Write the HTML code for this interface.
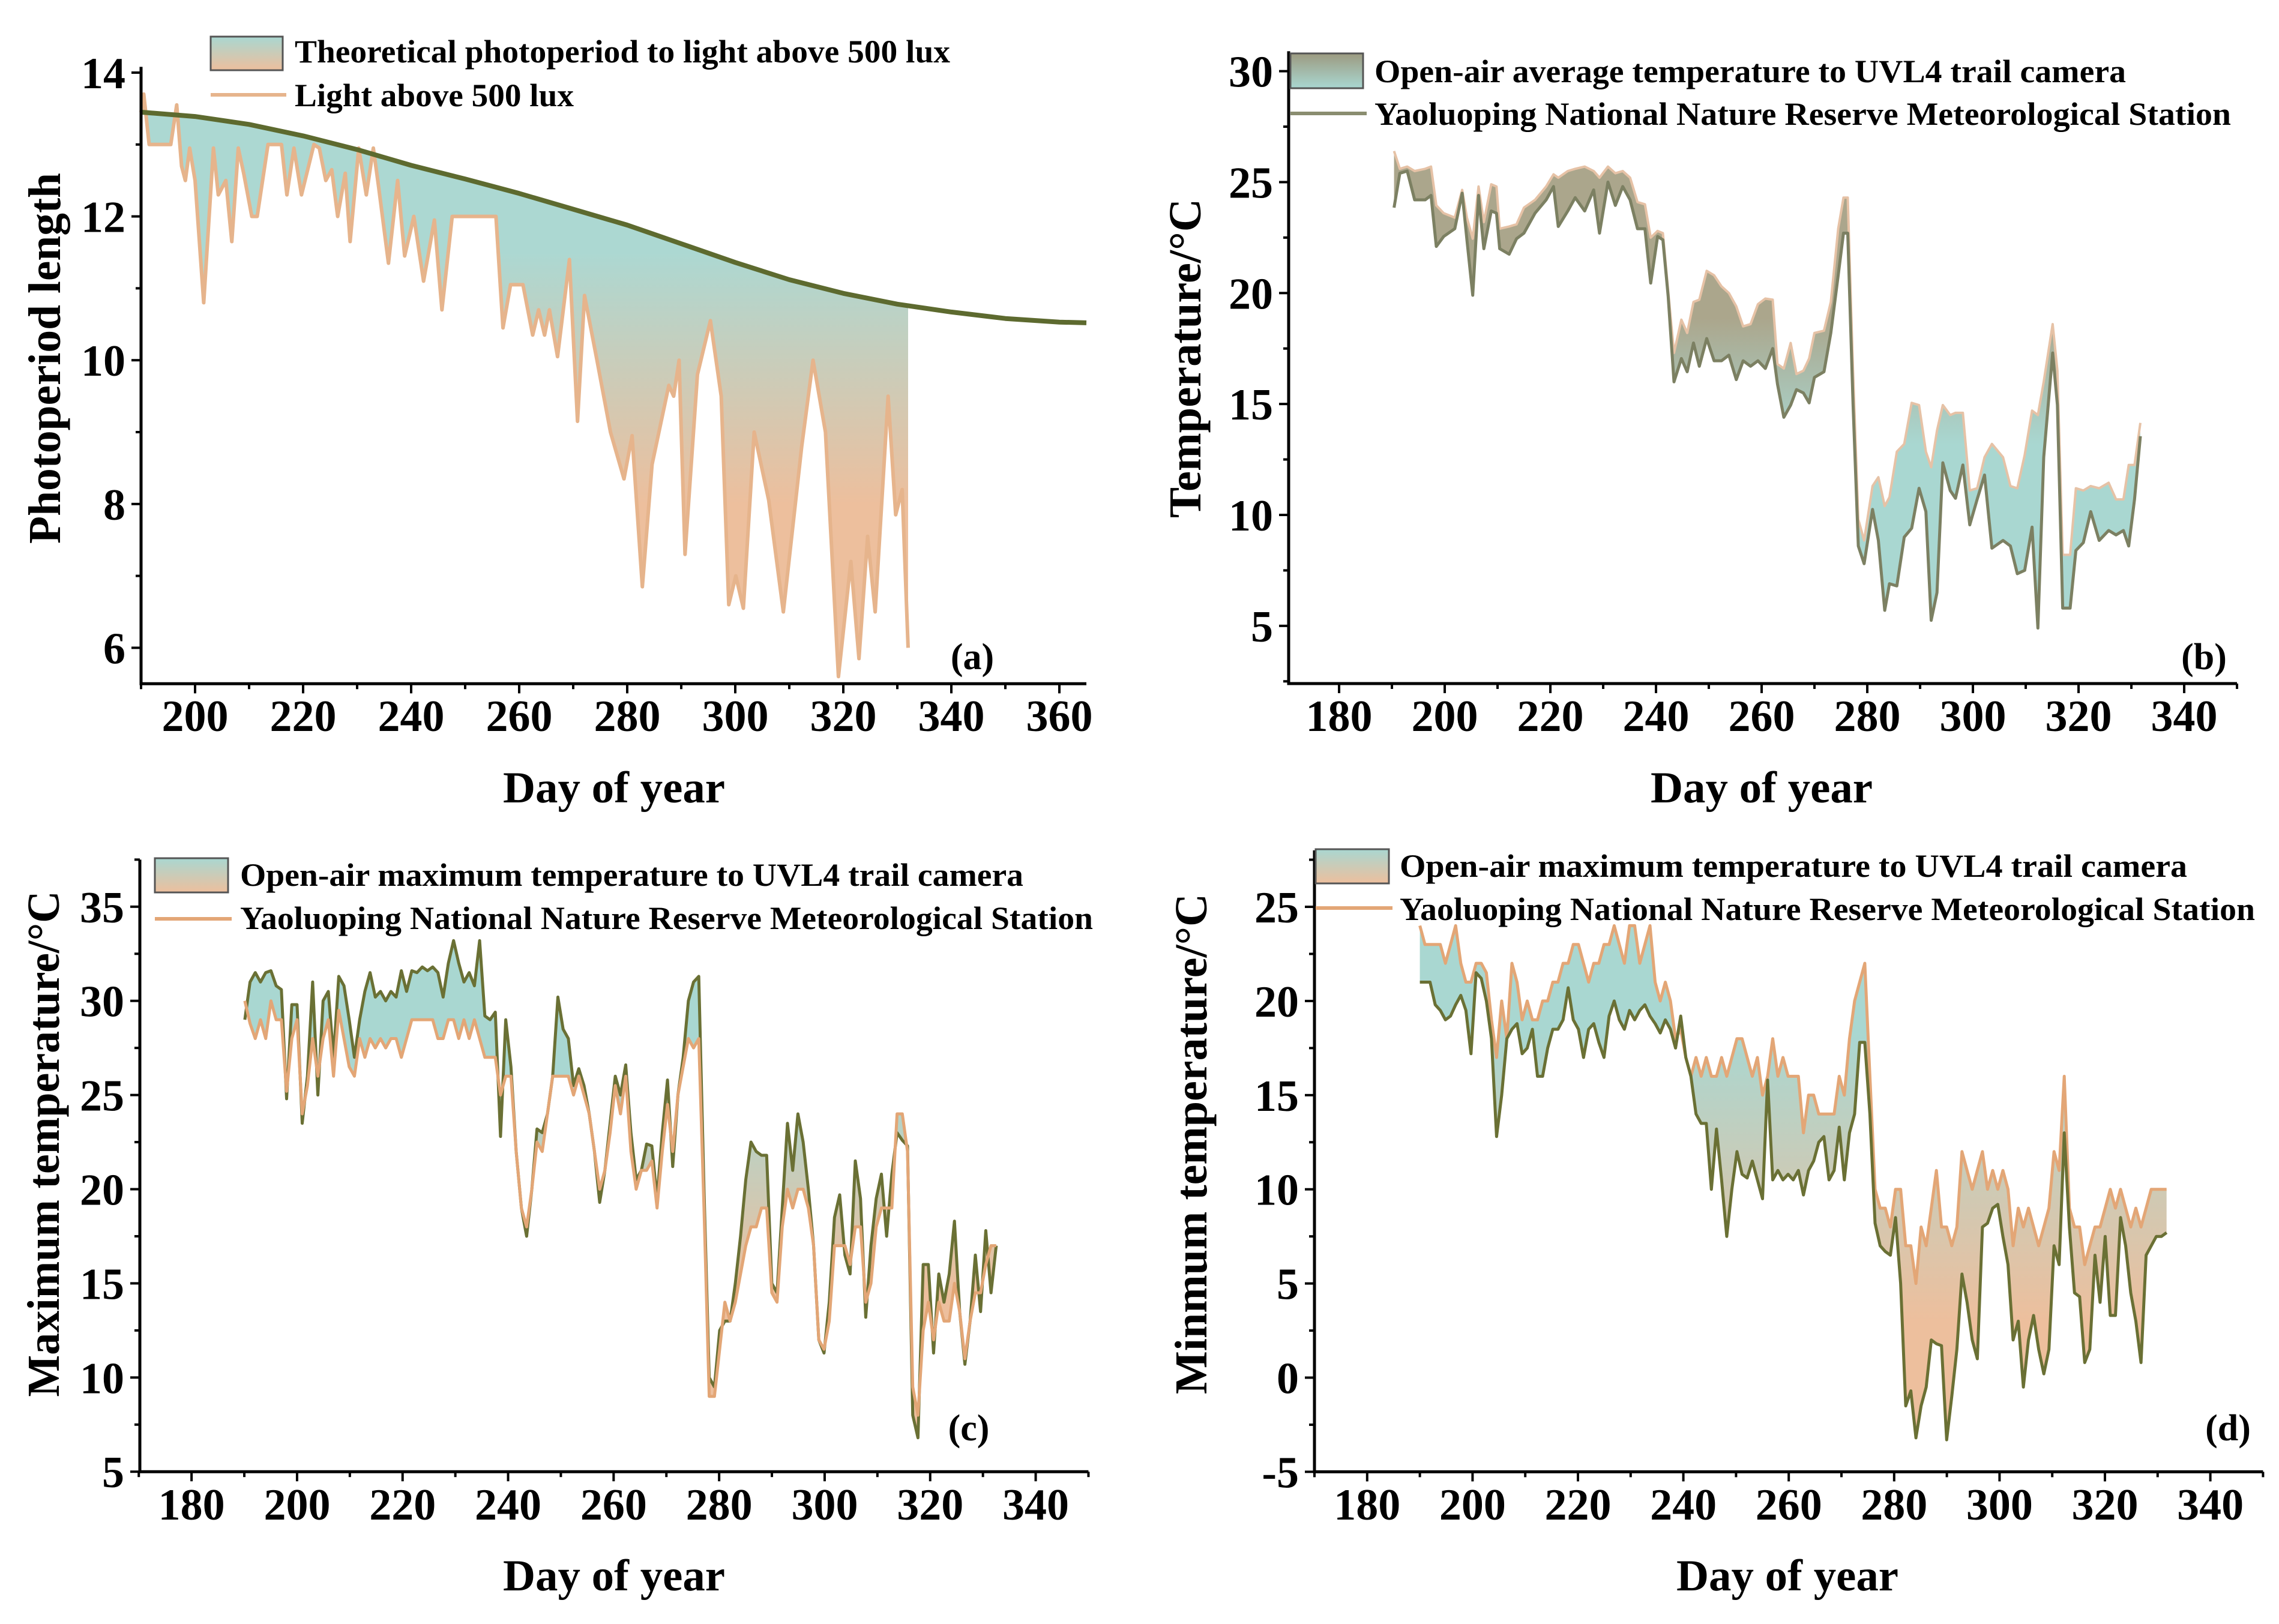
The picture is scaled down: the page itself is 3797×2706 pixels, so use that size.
<!DOCTYPE html>
<html><head><meta charset="utf-8"><style>
html,body{margin:0;padding:0;background:#fff;}
svg{display:block;}
text{font-family:"Liberation Serif",serif;font-weight:bold;fill:#000;}
</style></head><body>
<svg id="chart" xmlns="http://www.w3.org/2000/svg" width="3797" height="2706" viewBox="0 0 3797 2706">
<defs>
<linearGradient id="gA" gradientUnits="userSpaceOnUse" x1="0" y1="420" x2="0" y2="840"><stop offset="0" stop-color="#acd8d2"/><stop offset="1" stop-color="#edbf9d"/></linearGradient>
<linearGradient id="gB" gradientUnits="userSpaceOnUse" x1="0" y1="530" x2="0" y2="740"><stop offset="0" stop-color="#aba68c"/><stop offset="1" stop-color="#a9d7d1"/></linearGradient>
<linearGradient id="gC" gradientUnits="userSpaceOnUse" x1="0" y1="1800" x2="0" y2="2150"><stop offset="0" stop-color="#a9d7d1"/><stop offset="1" stop-color="#edbf9d"/></linearGradient>
<linearGradient id="gD" gradientUnits="userSpaceOnUse" x1="0" y1="1720" x2="0" y2="2200"><stop offset="0" stop-color="#a9d7d1"/><stop offset="1" stop-color="#edbf9d"/></linearGradient>
<linearGradient id="sw1" x1="0" y1="0" x2="0" y2="1"><stop offset="0" stop-color="#a9d7d1"/><stop offset="1" stop-color="#edbf9d"/></linearGradient>
<linearGradient id="sw2" x1="0" y1="0" x2="0" y2="1"><stop offset="0" stop-color="#9c9a80"/><stop offset="1" stop-color="#a9d7d1"/></linearGradient>
</defs>
</svg>
<script>
// ---------- Panel (a) data ----------
const theoDaysA = [190,200,210,220,230,240,250,260,270,280,290,300,310,320,330,340,350,360,365];
const theoValsA = [13.45,13.39,13.28,13.12,12.93,12.71,12.52,12.32,12.1,11.88,11.62,11.36,11.12,10.93,10.78,10.67,10.58,10.53,10.52];
const lightDaysA = [190,190.5,191.5,195.5,196.6,197.5,198.2,199,200,201.6,203.4,204.3,205.7,206.8,208,209,210.5,211.5,213.5,216,217,218.3,219.7,222,223,224.2,225.3,226.4,227.8,228.7,230.3,231.7,233,234,235.8,237.5,238.8,240.5,242.3,244.3,245.7,247.6,255.7,257,258.4,260.7,262.5,263.6,264.7,265.6,267.1,269.3,270.8,272.1,274.4,276.9,279.4,280.9,282.8,284.6,287.7,288.6,289.6,290.7,293,295.4,297.4,298.8,300.1,301.5,303.5,306.2,308.9,312.3,314.4,316.7,319.1,321.4,322.9,324.5,325.9,328.3,329.7,330.9,332];
const lightValsA = [13.45,13.7,13.0,13.0,13.55,12.7,12.5,12.95,12.5,10.8,12.95,12.3,12.5,11.65,12.95,12.6,12.0,12.0,13.0,13.0,12.3,12.95,12.3,13.0,12.95,12.5,12.65,12.0,12.6,11.65,12.95,12.3,12.95,12.4,11.35,12.5,11.45,12.0,11.1,11.95,10.7,12.0,12.0,10.45,11.05,11.05,10.35,10.7,10.35,10.7,10.05,11.4,9.15,10.9,10.0,9.0,8.35,8.95,6.85,8.55,9.65,9.5,10.0,7.3,9.8,10.55,9.5,6.6,7.0,6.55,9.0,8.05,6.5,8.8,10.0,9.0,5.6,7.2,5.85,7.55,6.5,9.5,7.85,8.2,6.0];
const xTicksA = [200,220,240,260,280,300,320,340,360];
const yTicksA = [6,8,10,12,14];

// ---------- Panel (b) data ----------
const daysB = [190.4,191.5,192.9,194.3,196.3,197.4,198.4,199.8,201.9,203.3,204.2,205.3,206.4,207.4,208.8,209.8,210.4,212.2,213.6,215,217.1,219.2,220.6,221.5,223.3,224.7,226.5,228.2,229.3,230.9,232.3,233.7,235.1,236.5,237.9,239,240.3,241.3,242.3,243.4,244.8,245.9,247.1,248.2,249.6,251,252.4,253.8,255.2,256.5,257.9,259.3,260.7,262.1,263,264.2,265.5,266.6,267.9,269,270,271.8,273.1,274.5,275.5,276.3,277.3,278.3,279.4,281,282.1,283.3,284.2,285.6,287,288.4,289.8,291.1,292.1,293.2,294.3,295.7,296.7,298.1,299.4,300.8,302.2,303.6,305.7,307.1,308.4,309.8,311.2,312.3,313.4,315.1,316,317,318.4,319.5,320.9,322.3,323.9,325.7,327.1,328.5,329.5,330.6,331.7];
const stationB = [23.85,25.4,25.5,24.2,24.2,24.4,22.1,22.55,22.9,24.5,22.4,19.9,24.4,22.0,23.7,23.6,22.0,21.75,22.45,22.7,23.6,24.2,24.8,23.0,23.7,24.3,23.7,24.65,22.7,25.0,23.95,24.8,24.2,22.9,22.9,20.45,22.55,22.4,19.85,16.0,17.05,16.45,17.75,16.7,17.95,16.95,16.95,17.2,16.1,16.95,16.7,16.95,16.6,17.5,15.9,14.4,14.95,15.65,15.5,15.05,16.2,16.45,18.2,20.8,22.7,22.7,15.0,8.6,7.8,10.25,8.85,5.7,6.9,6.8,9.0,9.4,11.2,10.15,5.25,6.5,12.35,11.1,10.75,12.25,9.55,10.7,11.8,8.5,8.85,8.6,7.35,7.5,9.45,4.9,12.6,17.3,14.95,5.8,5.8,8.4,8.75,10.15,8.85,9.3,9.1,9.3,8.6,10.7,13.55];
const cameraB = [26.4,25.6,25.7,25.5,25.6,25.7,23.95,23.6,23.4,24.65,23.4,22.45,24.8,23.2,24.9,24.8,22.9,23.0,23.1,23.85,24.2,24.8,25.35,25.2,25.5,25.6,25.7,25.5,25.2,25.7,25.4,25.5,25.2,24.1,24.0,22.5,22.8,22.7,20.1,17.3,18.8,18.2,19.6,19.7,21.0,20.8,20.3,20.0,19.4,18.5,18.6,19.5,19.75,19.7,16.8,16.6,17.75,16.35,16.5,17.05,18.2,18.3,19.6,22.9,24.3,24.3,16.5,9.8,8.85,11.3,11.7,10.4,10.8,12.85,13.2,15.05,14.95,12.85,12.15,13.8,14.95,14.5,14.6,14.6,11.1,11.2,12.6,13.2,12.6,11.3,11.2,12.7,14.7,14.5,16.0,18.6,16.5,8.2,8.2,11.2,11.1,11.3,11.2,11.45,10.7,10.7,12.25,12.25,14.15];
const xTicksB = [180,200,220,240,260,280,300,320,340];
const yTicksB = [5,10,15,20,25,30];

// ---------- Panel (c) data ----------
const firstDayC = 190.1, dayStepC = 0.989;
const stationC = [29.0,31.0,31.5,31.0,31.5,31.6,30.8,30.6,24.8,29.8,29.8,23.5,26.0,31.0,25.0,30.0,30.5,27.0,31.3,30.8,29.0,27.0,29.0,30.5,31.5,30.2,30.5,30.0,30.5,30.2,31.6,30.5,31.6,31.5,31.8,31.6,31.8,31.5,30.2,32.0,33.2,32.0,31.0,31.5,30.8,33.2,29.2,29.0,29.4,22.8,29.0,26.5,22.0,19.0,17.5,20.0,23.2,23.0,24.0,26.0,30.2,28.5,28.0,25.5,26.4,25.5,24.0,22.0,19.3,21.0,23.5,26.0,25.0,26.6,23.0,20.5,21.0,22.4,22.3,19.5,23.0,25.8,21.2,25.0,27.0,30.0,31.0,31.3,20.0,10.0,9.5,12.5,13.0,13.0,15.0,17.5,20.5,22.5,22.0,21.8,21.8,15.0,14.5,19.0,23.5,21.0,24.0,22.5,20.0,17.0,12.0,11.3,14.0,18.5,19.7,16.5,15.5,21.5,19.5,13.2,17.0,19.5,20.8,17.5,20.8,23.0,22.6,22.3,8.0,6.8,16.0,16.0,11.3,15.5,14.0,15.5,18.3,13.5,10.7,13.0,16.5,13.5,17.8,14.5,17.0];
const cameraC = [30.0,28.8,28.0,29.0,28.0,30.0,29.0,29.0,25.2,28.0,29.0,24.0,25.5,28.0,26.0,28.0,29.0,26.0,29.5,28.0,26.5,26.0,28.0,27.0,28.0,27.5,28.0,27.5,28.0,28.0,27.0,28.0,29.0,29.0,29.0,29.0,29.0,28.0,28.0,29.0,29.0,28.0,29.0,28.0,29.0,28.0,27.0,27.0,27.0,25.0,26.0,26.0,22.0,19.0,18.0,20.0,22.5,22.0,24.0,26.0,26.0,26.0,26.0,25.0,26.0,25.0,24.0,22.0,20.0,21.0,23.0,25.5,24.0,26.0,22.0,20.0,21.0,21.0,21.5,19.0,22.0,24.5,22.0,25.0,26.5,28.0,27.5,28.0,19.0,9.0,9.0,11.5,14.0,13.0,14.0,15.5,17.0,18.0,18.0,19.0,19.0,14.5,14.0,18.0,20.0,19.0,20.0,20.0,19.0,17.0,12.0,11.5,13.0,17.0,17.0,17.0,16.0,18.0,18.0,14.0,15.0,18.0,19.0,19.0,19.0,24.0,24.0,22.0,9.5,8.0,12.5,14.0,12.0,14.0,13.0,13.0,15.0,13.5,11.0,13.0,14.5,14.5,16.0,17.0,17.0];
const xTicksC = [180,200,220,240,260,280,300,320,340];
const yTicksC = [5,10,15,20,25,30,35];

// ---------- Panel (d) data ----------
const firstDayD = 190, dayStepD = 0.9705;
const stationD = [21.0,21.0,21.0,19.8,19.5,19.0,19.2,19.8,20.3,19.5,17.2,21.5,21.2,20.0,18.0,12.8,15.0,18.0,18.5,18.8,17.2,17.5,18.5,16.0,16.0,17.5,18.5,18.5,19.0,20.7,19.0,18.5,17.0,18.5,18.8,17.8,17.0,19.2,20.0,19.0,18.5,19.5,19.0,19.5,19.8,19.2,18.8,18.3,19.0,18.5,17.5,19.2,17.0,16.0,14.0,13.5,13.5,10.0,13.2,10.5,7.5,10.0,12.0,10.8,10.6,11.5,10.5,9.5,15.8,10.5,11.0,10.5,10.8,10.5,11.0,9.7,11.0,11.5,12.5,12.8,10.5,11.0,13.3,10.5,13.0,14.0,17.8,17.8,14.0,8.2,7.0,6.7,6.5,8.5,5.0,-1.5,-0.7,-3.2,-1.5,-0.5,2.0,1.8,1.7,-3.3,-1.0,1.5,5.5,4.0,2.0,1.0,8.0,8.2,9.0,9.2,7.5,6.0,2.0,3.0,-0.5,2.0,3.3,1.5,0.2,1.5,7.0,6.0,13.0,8.0,4.5,4.3,0.8,1.5,6.5,4.0,7.5,3.3,3.3,8.5,7.0,4.5,3.0,0.8,6.5,7.0,7.5,7.5,7.7];
const cameraD = [24,23,23,23,23,22,23,24,22,21,21,22,22,21.5,19,17,20,18,22,21,19,20,19,19,20,20,21,21,22,22,23,23,22,21,22,22,23,23,24,23,22,24,24,22,23,24,21,20,21,20,18,18.5,17,16,17,16,17,16,16,17,16,17,18,18,17,16,17,15,16,18,16,17,16,16,16,13,15,15,14,14,14,14,16,15,18,20,21,22,16,10,9,9,8,10,10,7,7,5,8,7,9,11,8,8,7,8,12,11,10,11,12,10,11,10,11,10,7,9,8,9,8,7,8,9,12,11,16,9,8,8,6,7,8,8,9,10,9,10,9,8,9,8,9,10,10,10,10];
const xTicksD = [180,200,220,240,260,280,300,320,340];
const yTicksD = [-5,0,5,10,15,20,25];

// ---------- drawing ----------
const NS = 'http://www.w3.org/2000/svg';
const svg = document.getElementById('chart');
function mk(tag, attrs, parent) {
  const e = document.createElementNS(NS, tag);
  for (const k in attrs) e.setAttribute(k, attrs[k]);
  (parent || svg).appendChild(e);
  return e;
}
function pts(days, vals, xs, ys) { return days.map((d, i) => xs(d).toFixed(1) + ',' + ys(vals[i]).toFixed(1)); }

function drawPanel(p) {
  const g = mk('g', {});
  
  
  const xs = d => p.left + (d - p.dMin) * p.kx;
  const ys = v => p.yRefPx + (p.yRef - v) * p.ky;
  const L = p.left, R = xs(p.dMax), B = ys(p.vMin), T = ys(p.vMax);
  p.draw(g, xs, ys);
  const ax = mk('path', {d: `M${L},${T} L${L},${B} L${R},${B}`, fill: 'none', stroke: '#000', 'stroke-width': 5}, g);
  
  
  for (let d = p.xMinor0; d <= p.dMax + 0.01; d += p.xMinorStep) {
    const major = p.xTicks.indexOf(d) >= 0;
    const t = mk('line', {x1: xs(d), x2: xs(d), y1: B, y2: B + (major ? 16 : 9), stroke: '#000', 'stroke-width': 4}, g);
    
    
  }
  p.xTicks.forEach(d => {
    const t = mk('text', {x: xs(d), y: p.xLabelY, 'font-size': 74, 'text-anchor': 'middle'}, g);
    t.textContent = d;
    
    
  });
  for (let v = p.yMinor0; v <= p.vMax + 0.01; v += p.yMinorStep) {
    const major = p.yTicks.indexOf(Math.round(v * 100) / 100) >= 0;
    const t = mk('line', {x1: L, x2: L - (major ? 16 : 9), y1: ys(v), y2: ys(v), stroke: '#000', 'stroke-width': 4}, g);
    
    
  }
  p.yTicks.forEach(v => {
    const t = mk('text', {x: L - 26, y: ys(v) + 26, 'font-size': 74, 'text-anchor': 'end'}, g);
    t.textContent = v;
    
    
  });
  const xt = mk('text', {x: p.xTitleX, y: p.xTitleY, 'font-size': 74, 'text-anchor': 'middle', textLength: 370, lengthAdjust: 'spacingAndGlyphs'}, g);
  xt.textContent = 'Day of year';
  
  
  const yt = mk('text', {x: 0, y: 0, 'font-size': 76, 'text-anchor': 'middle', transform: `translate(${p.yTitleX},${p.yTitleY}) rotate(-90)`, textLength: p.yTitleLen, lengthAdjust: 'spacingAndGlyphs'}, g);
  yt.textContent = p.yTitle;
  
  
  const pl = mk('text', {x: p.tagX, y: p.tagY, 'font-size': 62, 'text-anchor': 'middle'}, g);
  pl.textContent = p.tag;
  
  
  const lg = mk('g', {}, g);
  
  
  const sw = mk('rect', {x: p.lg.sx, y: p.lg.sy, width: p.lg.sw, height: p.lg.sh, fill: p.lg.swFill, stroke: '#555', 'stroke-width': 3}, lg);
  
  
  const t1 = mk('text', {x: p.lg.tx, y: p.lg.t1y, 'font-size': 54, textLength: p.lg.t1len, lengthAdjust: 'spacingAndGlyphs'}, lg);
  t1.textContent = p.lg.t1;
  
  
  const ll = mk('line', {x1: p.lg.sx, x2: p.lg.sx + p.lg.sw + 6, y1: p.lg.ly, y2: p.lg.ly, stroke: p.lg.lineColor, 'stroke-width': 6}, lg);
  
  
  const t2 = mk('text', {x: p.lg.tx, y: p.lg.t2y, 'font-size': 54, textLength: p.lg.t2len, lengthAdjust: 'spacingAndGlyphs'}, lg);
  t2.textContent = p.lg.t2;
  
  
}

function theoAt(d) {
  for (let i = 0; i < theoDaysA.length - 1; i++) {
    if (d >= theoDaysA[i] && d <= theoDaysA[i + 1]) {
      const f = (d - theoDaysA[i]) / (theoDaysA[i + 1] - theoDaysA[i]);
      return theoValsA[i] + f * (theoValsA[i + 1] - theoValsA[i]);
    }
  }
  return theoValsA[theoValsA.length - 1];
}

drawPanel({
  name: 'panel-a-photoperiod', left: 235, dMin: 190, dMax: 365, kx: 9, yRef: 14, yRefPx: 121, ky: 119.8, vMin: 5.5, vMax: 14.08,
  xTicks: xTicksA, xMinor0: 190, xMinorStep: 10, yTicks: yTicksA, yMinor0: 6, yMinorStep: 1, xLabelY: 1218,
  xTitleX: 1023, xTitleY: 1337, yTitle: 'Photoperiod length', yTitleX: 100, yTitleY: 597, yTitleLen: 618,
  tag: '(a)', tagX: 1620, tagY: 1115,
  lg: {sx: 351, sy: 61, sw: 120, sh: 56, swFill: 'url(#sw1)', tx: 491, t1y: 104, t1len: 1092, t1: 'Theoretical photoperiod to light above 500 lux',
       ly: 158, lineColor: '#e6b48c', t2y: 177, t2len: 465, t2: 'Light above 500 lux'},
  draw: (g, xs, ys) => {
    const lastD = lightDaysA[lightDaysA.length - 1];
    const top = [];
    for (let i = theoDaysA.length - 1; i >= 0; i--) if (theoDaysA[i] < lastD) top.push(xs(theoDaysA[i]).toFixed(1) + ',' + ys(theoValsA[i]).toFixed(1));
    const poly = pts(lightDaysA, lightValsA, xs, ys).concat([xs(lastD).toFixed(1) + ',' + ys(theoAt(lastD)).toFixed(1)]).concat(top);
    const f = mk('polygon', {points: poly.join(' '), fill: 'url(#gA)'}, g);
    
    
    const l1 = mk('polyline', {points: pts(lightDaysA, lightValsA, xs, ys).join(' '), fill: 'none', stroke: '#e6b48c', 'stroke-width': 6, 'stroke-linejoin': 'round'}, g);
    
    
    const l2 = mk('polyline', {points: pts(theoDaysA, theoValsA, xs, ys).join(' '), fill: 'none', stroke: '#5d6a2f', 'stroke-width': 8, 'stroke-linejoin': 'round'}, g);
    
    
  }
});

function pairPanel(days, upper, lower, fillId, upColor, lowColor, upW, lowW, g, xs, ys, upName, lowName) {
  const poly = pts(days, upper, xs, ys).concat(pts(days, lower, xs, ys).reverse());
  const f = mk('polygon', {points: poly.join(' '), fill: 'url(#' + fillId + ')'}, g);
  
  
  const a = mk('polyline', {points: pts(days, upper, xs, ys).join(' '), fill: 'none', stroke: upColor, 'stroke-width': upW, 'stroke-linejoin': 'round'}, g);
  
  
  const b = mk('polyline', {points: pts(days, lower, xs, ys).join(' '), fill: 'none', stroke: lowColor, 'stroke-width': lowW, 'stroke-linejoin': 'round'}, g);
  
  
}

drawPanel({
  name: 'panel-b-average-temperature', left: 2147, dMin: 170.45, dMax: 350, kx: 8.8, yRef: 30, yRefPx: 118.6, ky: 36.97, vMin: 2.4, vMax: 30.9,
  xTicks: xTicksB, xMinor0: 180, xMinorStep: 10, yTicks: yTicksB, yMinor0: 2.5, yMinorStep: 2.5, xLabelY: 1218,
  xTitleX: 2935, xTitleY: 1337, yTitle: 'Temperature/°C', yTitleX: 2000, yTitleY: 597, yTitleLen: 532,
  tag: '(b)', tagX: 3672, tagY: 1115,
  lg: {sx: 2150, sy: 89, sw: 121, sh: 58, swFill: 'url(#sw2)', tx: 2290, t1y: 137, t1len: 1252, t1: 'Open-air average temperature to UVL4 trail camera',
       ly: 189, lineColor: '#8a8d70', t2y: 208, t2len: 1427, t2: 'Yaoluoping National Nature Reserve Meteorological Station'},
  draw: (g, xs, ys) => pairPanel(daysB, cameraB, stationB, 'gB', '#e6c2a6', '#7c8062', 4, 5, g, xs, ys, 'line-trail-camera', 'line-station')
});

const daysC = stationC.map((_, i) => firstDayC + i * dayStepC);
drawPanel({
  name: 'panel-c-maximum-temperature', left: 233, dMin: 170.2, dMax: 350, kx: 8.79, yRef: 35, yRefPx: 1510.8, ky: 31.38, vMin: 5, vMax: 37.5,
  xTicks: xTicksC, xMinor0: 170, xMinorStep: 10, yTicks: yTicksC, yMinor0: 5, yMinorStep: 2.5, xLabelY: 2532,
  xTitleX: 1023, xTitleY: 2650, yTitle: 'Maximum temperature/°C', yTitleX: 98, yTitleY: 1906, yTitleLen: 843,
  tag: '(c)', tagX: 1614, tagY: 2400,
  lg: {sx: 258, sy: 1430, sw: 122, sh: 57, swFill: 'url(#sw1)', tx: 400, t1y: 1476, t1len: 1305, t1: 'Open-air maximum temperature to UVL4 trail camera',
       ly: 1531, lineColor: '#e3a676', t2y: 1548, t2len: 1421, t2: 'Yaoluoping National Nature Reserve Meteorological Station'},
  draw: (g, xs, ys) => {
    const poly = pts(daysC, stationC, xs, ys).concat(pts(daysC, cameraC, xs, ys).reverse());
    const f = mk('polygon', {points: poly.join(' '), fill: 'url(#gC)'}, g);
    
    
    const a = mk('polyline', {points: pts(daysC, stationC, xs, ys).join(' '), fill: 'none', stroke: '#6a7034', 'stroke-width': 5, 'stroke-linejoin': 'round'}, g);
    
    
    const b = mk('polyline', {points: pts(daysC, cameraC, xs, ys).join(' '), fill: 'none', stroke: '#e3a676', 'stroke-width': 5, 'stroke-linejoin': 'round'}, g);
    
    
  }
});

const daysD = stationD.map((_, i) => firstDayD + i * dayStepD);
drawPanel({
  name: 'panel-d-minimum-temperature', left: 2190, dMin: 170, dMax: 350, kx: 8.78, yRef: 25, yRefPx: 1511, ky: 31.38, vMin: -5, vMax: 28,
  xTicks: xTicksD, xMinor0: 170, xMinorStep: 10, yTicks: yTicksD, yMinor0: -5, yMinorStep: 2.5, xLabelY: 2532,
  xTitleX: 2978, xTitleY: 2650, yTitle: 'Minmum temperature/°C', yTitleX: 2010, yTitleY: 1906, yTitleLen: 834,
  tag: '(d)', tagX: 3712, tagY: 2400,
  lg: {sx: 2192, sy: 1415, sw: 122, sh: 57, swFill: 'url(#sw1)', tx: 2332, t1y: 1461, t1len: 1312, t1: 'Open-air maximum temperature to UVL4 trail camera',
       ly: 1513, lineColor: '#e3a676', t2y: 1533, t2len: 1425, t2: 'Yaoluoping National Nature Reserve Meteorological Station'},
  draw: (g, xs, ys) => pairPanel(daysD, cameraD, stationD, 'gD', '#e3a676', '#6a7034', 5, 5, g, xs, ys, 'line-trail-camera', 'line-station')
});
</script>
</body></html>
